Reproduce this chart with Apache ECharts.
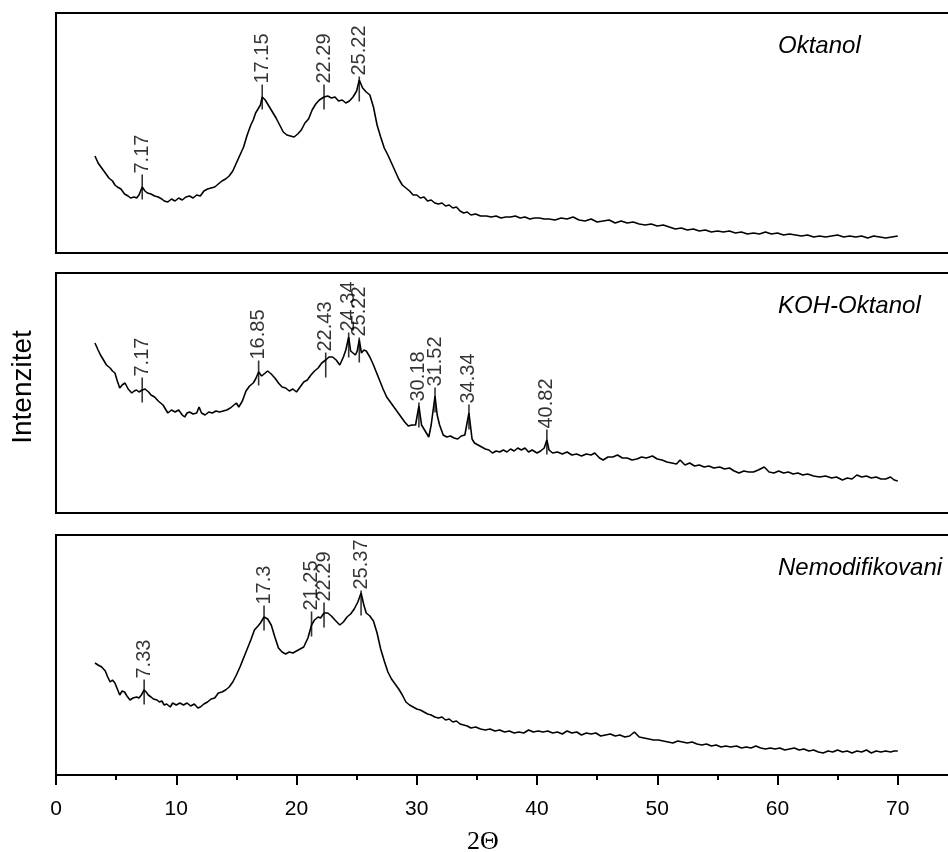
<!DOCTYPE html>
<html>
<head>
<meta charset="utf-8">
<script src="https://cdn.jsdelivr.net/npm/echarts@6/dist/echarts.min.js"></script>
<style>
  html, body { margin: 0; padding: 0; background: #fff; }
  #chart { width: 948px; height: 852px; }
</style>
</head>
<body>
<div id="chart"></div>
<script>
// 2θ / intenzitet (relativne jedinice, ocitano sa slike)
const oktanol = [
  [3.24,97],[3.5,90],[3.8,85],[4.1,80],[4.4,75],[4.7,72],[4.9,68],[5.1,66],[5.4,64],[5.7,59],
  [6.0,57],[6.2,55],[6.5,56],[6.7,55],[6.9,58],[7.17,66],[7.4,62],[7.6,60],[7.9,59],[8.2,57],
  [8.5,56],[8.8,54],[9.0,52],[9.3,51],[9.6,54],[9.9,52],[10.2,55],[10.5,53],[10.8,56],[11.1,57],
  [11.4,55],[11.7,58],[12.0,57],[12.3,62],[12.6,64],[12.9,65],[13.2,66],[13.5,69],[13.8,72],[14.1,74],
  [14.4,77],[14.7,82],[15.0,90],[15.3,98],[15.6,106],[15.9,118],[16.2,128],[16.4,133],[16.6,140],[16.8,144],
  [17.0,148],[17.15,156],[17.4,153],[17.7,147],[18.0,141],[18.3,135],[18.6,128],[18.9,121],[19.2,118],[19.5,117],
  [19.8,116],[20.1,119],[20.4,123],[20.7,130],[21.0,134],[21.3,143],[21.6,149],[21.9,153],[22.29,156],[22.6,157],
  [22.9,155],[23.2,156],[23.5,152],[23.8,153],[24.1,150],[24.4,152],[24.7,156],[25.0,162],[25.22,173],[25.5,165],
  [25.8,161],[26.1,158],[26.4,146],[26.7,128],[27.0,116],[27.3,105],[27.6,98],[27.9,90],[28.2,82],[28.5,74],
  [28.8,68],[29.1,65],[29.4,62],[29.7,58],[30.0,58],[30.3,55],[30.6,56],[30.9,52],[31.2,53],[31.5,50],
  [31.8,49],[32.1,50],[32.4,47],[32.7,48],[33.0,45],[33.3,46],[33.6,42],[33.9,40],[34.2,41],[34.5,38],
  [34.9,39],[35.3,37],[35.8,37],[36.2,36],[36.6,37],[37.0,35],[37.4,36],[37.8,36],[38.2,37],[38.6,35],
  [39.0,36],[39.4,34],[39.8,35],[40.2,35],[40.6,34],[41.0,34],[41.5,33],[42.0,35],[42.5,34],[43.0,36],
  [43.5,33],[44.0,32],[44.5,34],[45.0,31],[45.5,32],[46.0,33],[46.5,30],[47.0,32],[47.5,30],[48.0,31],
  [48.5,29],[49.0,28],[49.5,29],[50.0,27],[50.5,28],[51.0,26],[51.5,24],[52.0,25],[52.5,23],[53.0,24],
  [53.5,22],[54.0,23],[54.5,21],[55.0,22],[55.5,21],[56.0,22],[56.5,20],[57.0,21],[57.5,19],[58.0,20],
  [58.5,19],[59.0,21],[59.5,19],[60.0,20],[60.5,18],[61.0,19],[61.5,18],[62.0,17],[62.5,18],[63.0,16],
  [63.5,17],[64.0,16],[64.5,17],[65.0,18],[65.5,16],[66.0,17],[66.5,16],[67.0,17],[67.5,15],[68.0,17],
  [68.5,16],[69.0,15],[69.5,16],[70.0,17]
];
const kohOktanol = [
  [3.24,170],[3.5,163],[3.7,158],[4.0,152],[4.2,148],[4.5,145],[4.7,142],[4.9,140],[5.1,132],[5.3,125],
  [5.5,128],[5.74,130],[6.0,124],[6.3,120],[6.5,122],[6.7,123],[6.9,121],[7.17,123],[7.4,124],[7.7,121],
  [7.9,118],[8.2,116],[8.5,112],[8.7,110],[8.9,108],[9.1,104],[9.3,100],[9.6,103],[9.9,101],[10.2,103],
  [10.5,98],[10.7,96],[10.9,100],[11.1,101],[11.4,99],[11.7,100],[11.9,106],[12.1,100],[12.4,98],[12.7,101],
  [13.0,100],[13.3,102],[13.6,101],[13.9,102],[14.2,103],[14.5,105],[14.8,108],[15.0,110],[15.2,106],[15.5,112],
  [15.8,122],[16.1,127],[16.4,130],[16.6,134],[16.85,141],[17.1,137],[17.4,140],[17.6,142],[17.9,139],[18.2,135],
  [18.5,130],[18.8,126],[19.1,125],[19.4,122],[19.7,124],[20.0,121],[20.3,126],[20.6,131],[20.9,133],[21.2,138],
  [21.5,142],[21.8,145],[22.1,150],[22.43,153],[22.7,156],[23.0,156],[23.3,153],[23.6,148],[23.9,156],[24.1,163],
  [24.34,176],[24.5,162],[24.7,160],[24.9,158],[25.05,162],[25.22,173],[25.4,160],[25.6,163],[25.8,162],[26.1,156],
  [26.4,148],[26.7,139],[26.9,133],[27.2,124],[27.5,116],[27.8,111],[28.1,106],[28.4,101],[28.7,96],[29.0,91],
  [29.3,87],[29.6,88],[29.9,88],[30.18,107],[30.4,88],[30.7,82],[31.0,76],[31.2,88],[31.52,117],[31.7,98],
  [31.9,88],[32.2,78],[32.5,76],[32.8,77],[33.1,75],[33.4,74],[33.7,77],[34.0,78],[34.34,100],[34.6,74],
  [34.8,70],[35.1,68],[35.4,66],[35.7,64],[36.0,63],[36.3,60],[36.6,62],[36.9,61],[37.2,63],[37.5,61],
  [37.8,64],[38.1,62],[38.4,65],[38.7,63],[39.0,65],[39.3,61],[39.6,63],[40.0,60],[40.3,62],[40.6,65],
  [40.82,73],[41.0,63],[41.3,60],[41.7,61],[42.1,59],[42.5,61],[42.9,58],[43.3,59],[43.7,57],[44.1,59],
  [44.5,58],[44.8,60],[45.2,55],[45.5,53],[45.9,56],[46.3,56],[46.7,58],[47.1,55],[47.5,55],[47.9,53],
  [48.3,54],[48.7,56],[49.1,55],[49.6,57],[50.0,54],[50.4,53],[50.8,51],[51.2,50],[51.6,49],[51.9,53],
  [52.3,48],[52.7,50],[53.1,47],[53.5,48],[53.9,46],[54.3,47],[54.7,45],[55.2,46],[55.6,44],[56.0,45],
  [56.4,42],[56.8,40],[57.2,42],[57.6,41],[58.0,41],[58.4,43],[58.9,46],[59.3,41],[59.7,40],[60.1,42],
  [60.5,40],[60.9,41],[61.3,39],[61.7,40],[62.1,38],[62.5,39],[63.0,37],[63.5,36],[64.0,37],[64.5,35],
  [64.9,36],[65.4,33],[65.8,35],[66.2,34],[66.6,38],[67.0,36],[67.4,37],[67.8,35],[68.2,36],[68.6,34],
  [69.0,34],[69.4,36],[69.7,33],[70.0,32]
];
const nemodifikovani = [
  [3.24,112],[3.5,110],[3.8,108],[4.1,104],[4.3,98],[4.5,93],[4.7,95],[4.9,92],[5.1,86],[5.3,80],
  [5.5,84],[5.7,83],[5.9,79],[6.15,75],[6.4,77],[6.7,78],[6.9,77],[7.1,80],[7.33,85],[7.5,83],
  [7.67,80],[7.9,78],[8.1,76],[8.4,75],[8.6,73],[8.8,74],[9.0,70],[9.2,71],[9.5,68],[9.7,72],
  [10.0,70],[10.3,72],[10.6,70],[10.9,72],[11.2,69],[11.5,71],[11.8,67],[12.0,68],[12.3,71],[12.6,73],
  [12.9,76],[13.2,77],[13.5,82],[13.8,83],[14.1,85],[14.4,88],[14.7,93],[15.0,100],[15.3,108],[15.6,117],
  [15.9,126],[16.2,135],[16.5,145],[16.8,149],[17.0,152],[17.3,158],[17.6,156],[17.9,150],[18.2,138],[18.5,127],
  [18.8,123],[19.1,121],[19.4,123],[19.7,122],[20.0,124],[20.3,126],[20.6,128],[20.95,137],[21.25,150],[21.5,155],
  [21.8,158],[22.0,157],[22.29,162],[22.6,162],[22.9,159],[23.2,155],[23.6,150],[23.9,153],[24.2,158],[24.5,161],
  [24.8,166],[25.1,173],[25.37,182],[25.6,170],[25.8,162],[26.1,159],[26.4,154],[26.7,142],[27.0,126],[27.3,114],
  [27.6,103],[27.9,96],[28.2,91],[28.5,86],[28.8,80],[29.1,73],[29.4,70],[29.7,68],[30.0,66],[30.3,65],
  [30.6,63],[30.9,61],[31.2,60],[31.5,58],[31.8,57],[32.1,58],[32.4,55],[32.7,56],[33.0,53],[33.3,54],
  [33.6,51],[33.9,50],[34.2,49],[34.5,47],[34.9,48],[35.3,46],[35.7,45],[36.1,46],[36.5,44],[36.9,45],
  [37.3,43],[37.7,44],[38.1,42],[38.5,43],[38.9,42],[39.3,45],[39.7,43],[40.1,44],[40.5,43],[40.9,44],
  [41.3,42],[41.7,43],[42.1,41],[42.5,44],[42.9,42],[43.3,43],[43.7,40],[44.1,42],[44.5,41],[44.9,42],
  [45.3,39],[45.7,40],[46.1,41],[46.5,39],[46.9,40],[47.3,38],[47.7,39],[48.1,43],[48.5,38],[48.9,37],
  [49.3,36],[49.7,35],[50.1,35],[50.5,34],[50.9,33],[51.3,32],[51.7,34],[52.1,33],[52.5,32],[52.9,33],
  [53.3,31],[53.7,30],[54.1,31],[54.5,29],[54.9,30],[55.3,28],[55.7,29],[56.1,28],[56.6,29],[57.0,27],
  [57.4,28],[57.8,27],[58.2,29],[58.6,27],[59.0,26],[59.4,27],[59.8,26],[60.2,27],[60.6,25],[61.0,26],
  [61.4,27],[61.8,25],[62.2,26],[62.6,24],[63.0,25],[63.4,23],[63.8,22],[64.2,24],[64.6,23],[65.0,25],
  [65.4,23],[65.8,24],[66.2,22],[66.6,24],[67.0,23],[67.4,25],[67.8,22],[68.2,24],[68.6,23],[69.0,24],
  [69.4,23],[69.7,24],[70.0,24]
];

// oznake pikova: [2θ, visina oznake]
const oktanolPeaks = [[7.17,66],[17.15,156],[22.29,156],[25.22,164]];
const kohPeaks = [[7.17,123],[16.85,140],[22.43,148],[24.34,168],[25.22,163],[30.18,98],[31.52,113],[34.34,96],[40.82,71]];
const nemPeaks = [[7.33,83],[17.3,157],[21.25,151],[22.29,160],[25.37,172]];

const panelNames = ['Oktanol', 'KOH-Oktanol', 'Nemodifikovani'];
const panelTops = [13, 273, 535];

const chart = echarts.init(document.getElementById('chart'));

// os ide do 80, desni dio je izvan slike (kao na originalu)
const grids = panelTops.map(t => ({
  left: 56, top: t, height: 240, right: -70,
  outerBoundsMode: 'none', containLabel: false,
  show: true, borderColor: '#000', borderWidth: 2
}));

const xAxes = [0, 1, 2].map(i => ({
  type: 'value', gridIndex: i, min: 0, max: 80, interval: 10,
  axisLine: { show: i === 2, onZero: false, lineStyle: { color: '#000', width: 2 } },
  axisTick: { show: i === 2, length: 10, lineStyle: { color: '#000', width: 2 } },
  minorTick: { show: i === 2, splitNumber: 2, length: 5, lineStyle: { color: '#000', width: 2 } },
  axisLabel: { show: i === 2, color: '#000', fontSize: 21, fontFamily: 'Liberation Sans', margin: 24 },
  splitLine: { show: false }
}));

const yAxes = [0, 1, 2].map(i => ({
  type: 'value', gridIndex: i, min: 0, max: 240,
  show: false, splitLine: { show: false }
}));

function curve(data, i) {
  return {
    type: 'line', xAxisIndex: i, yAxisIndex: i, data: data,
    showSymbol: false, lineStyle: { color: '#000', width: 1.6 }, z: 2
  };
}
function peaks(data, i) {
  return {
    type: 'scatter', xAxisIndex: i, yAxisIndex: i, data: data,
    symbol: 'rect', symbolSize: [1.6, 25],
    itemStyle: { color: '#000' }, z: 3,
    label: {
      show: true, position: 'top', rotate: 90, distance: 1,
      align: 'left', verticalAlign: 'middle',
      color: '#000', fontSize: 20, fontFamily: 'Liberation Sans',
      formatter: p => String(p.value[0])
    }
  };
}

const texts = panelNames.map((n, i) => ({
  type: 'text', left: 778, top: panelTops[i] + 21,
  style: { text: n, font: 'italic 24px "Liberation Sans"', fill: '#000' }
}));

chart.setOption({
  animation: false,
  grid: grids,
  xAxis: xAxes,
  yAxis: yAxes,
  series: [
    curve(oktanol, 0), peaks(oktanolPeaks, 0),
    curve(kohOktanol, 1), peaks(kohPeaks, 1),
    curve(nemodifikovani, 2), peaks(nemPeaks, 2)
  ],
  graphic: texts.concat([
    {
      type: 'text', x: 23, y: 387, rotation: Math.PI / 2,
      style: { text: 'Intenzitet', font: '28px "Liberation Sans"', fill: '#000', align: 'center', verticalAlign: 'middle' }
    },
    {
      type: 'text', x: 483, y: 842,
      style: { text: '2Θ', font: '26px "Liberation Serif"', fill: '#000', align: 'center', verticalAlign: 'middle' }
    }
  ])
});
</script>
</body>
</html>
